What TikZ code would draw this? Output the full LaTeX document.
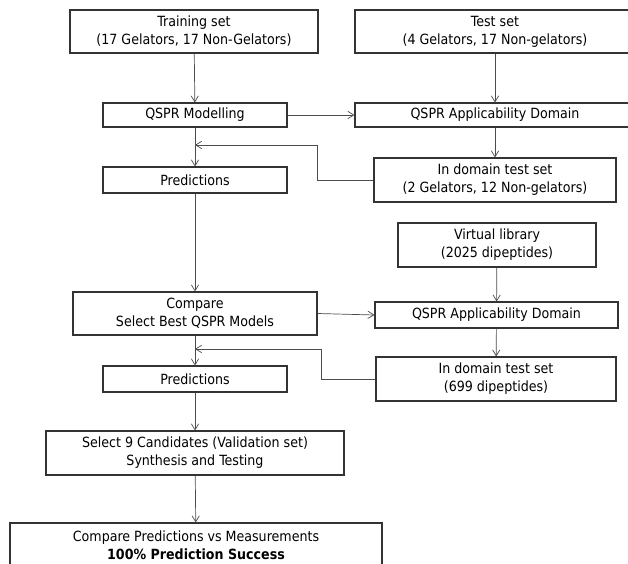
\documentclass[tikz,border=0pt]{standalone}
\usepackage{fontspec}
\setmainfont{DejaVu Sans Condensed}
\usepackage{tikz}
\usetikzlibrary{positioning, arrows.meta}

\tikzset{
  box/.style={draw=black!80, line width=0.9pt, fill=white, align=center, inner sep=0pt,
    font=\fontsize{12}{15.3}\selectfont},
  arr/.style={draw=black!70, line width=0.6pt, -{Straight Barb[length=1.8mm, width=2.2mm]}}
}

\begin{document}
\begin{tikzpicture}
\useasboundingbox (0,0) rectangle (18.84,-16.92);

% linke Spalte
\node[box, minimum width=7.44cm, minimum height=1.29cm] (train) at (5.82,-0.945) {Training set\\(17 Gelators, 17 Non-Gelators)};
\node[box, minimum width=5.52cm, minimum height=0.72cm] (model) at (5.85,-3.45) {QSPR Modelling};
\node[box, minimum width=5.52cm, minimum height=0.78cm] (pred1) at (5.85,-5.40) {Predictions};
\node[box, minimum width=7.32cm, minimum height=1.29cm] (comp) at (5.85,-9.405) {Compare\\Select Best QSPR Models};
\node[box, minimum width=5.52cm, minimum height=0.78cm] (pred2) at (5.85,-11.37) {Predictions};
\node[box, minimum width=8.94cm, minimum height=1.32cm] (select) at (5.85,-13.59) {Select 9 Candidates (Validation set)\\Synthesis and Testing};
\node[box, minimum width=11.16cm, minimum height=1.32cm] (final) at (5.88,-16.35) {Compare Predictions vs Measurements\\\textbf{100\% Prediction Success}};

% rechte Spalte
\node[box, minimum width=8.40cm, minimum height=1.29cm] (test) at (14.85,-0.945) {Test set\\(4 Gelators, 17 Non-gelators)};
\node[box, minimum width=8.40cm, minimum height=0.72cm] (ad1) at (14.85,-3.45) {QSPR Applicability Domain};
\node[box, minimum width=7.26cm, minimum height=1.32cm] (dom1) at (14.85,-5.40) {In domain test set\\(2 Gelators, 12 Non-gelators)};
\node[box, minimum width=5.94cm, minimum height=1.32cm] (vlib) at (14.91,-7.35) {Virtual library\\(2025 dipeptides)};
\node[box, minimum width=7.29cm, minimum height=0.78cm] (ad2) at (14.895,-9.45) {QSPR Applicability Domain};
\node[box, minimum width=7.20cm, minimum height=1.32cm] (dom2) at (14.88,-11.37) {In domain test set\\(699 dipeptides)};

\coordinate (back1) at (5.85,-4.35);
\coordinate (back2) at (5.85,-10.47);

\draw[arr] (train) -- (model);
\draw[arr] (model) -- (pred1);
\draw[arr] (pred1) -- (comp);
\draw[arr] (comp) -- (pred2);
\draw[arr] (pred2) -- (select);
\draw[arr] (select) -- (final);
\draw[arr] (test) -- (ad1);
\draw[arr] (ad1) -- (dom1);
\draw[arr] (vlib) -- (ad2);
\draw[arr] (ad2) -- (dom2);
\draw[arr] (model) -- (ad1);
\draw[arr] (comp.east) -- (ad2.west);
\draw[arr] (dom1.west) -- ++(-1.68,0) |- (back1);
\draw[arr] (dom2.west) -- ++(-1.62,0) |- (back2);
\end{tikzpicture}
\end{document}
